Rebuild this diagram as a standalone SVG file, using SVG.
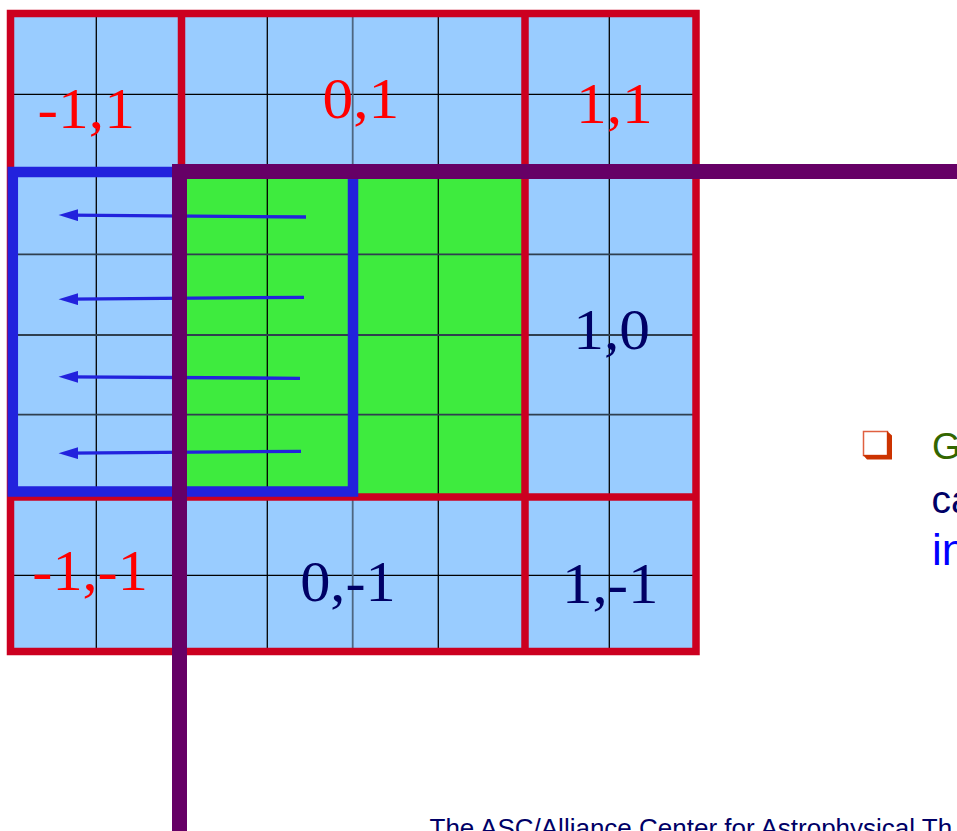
<svg xmlns="http://www.w3.org/2000/svg" width="957" height="831" viewBox="0 0 957 831">
  <style>
    .thin { stroke: #000000; stroke-width: 1.3; fill: none; }
    .thinb { stroke: #2f3f4f; stroke-width: 1.8; fill: none; }
    .red { stroke: #CC0020; stroke-width: 7.5; fill: none; }
    .lbl { font-family: "Liberation Serif", "Times New Roman", serif; font-size: 58px; }
    .lr { fill: #FF0000; }
    .ln { fill: #000066; }
    .arrow { stroke: #2222DD; stroke-width: 3.3; fill: none; marker-end: url(#ah); }
    .sans { font-family: "Liberation Sans", Arial, sans-serif; }
  </style>
  <defs>
    <marker id="ah" markerUnits="userSpaceOnUse" markerWidth="20" markerHeight="12" viewBox="0 0 18 11" refX="7.5" refY="5.5" orient="auto">
      <path d="M0,0 L18,5.5 L0,11 z" fill="#2222DD"/>
    </marker>
  </defs>
  <rect width="957" height="831" fill="#FFFFFF"/>

  <g id="grid">
    <rect x="10.5" y="13.5" width="685.5" height="637.5" fill="#99CCFF"/>
    <rect id="interior" x="181" y="172" width="343" height="325" fill="#3EEB3E"/>
    <g class="thin">
      <line x1="96.3" y1="13.5" x2="96.3" y2="651"/>
      <line x1="267.3" y1="13.5" x2="267.3" y2="651"/>
      <line x1="438.3" y1="13.5" x2="438.3" y2="651"/>
      <line x1="609.3" y1="13.5" x2="609.3" y2="651"/>
      <line x1="10.5" y1="94.3" x2="696" y2="94.3"/>
      <line x1="10.5" y1="575.3" x2="696" y2="575.3"/>
    </g>
    <g class="thinb">
      <line x1="352.7" y1="13.5" x2="352.7" y2="651" stroke="#4d6680"/>
      <line x1="10.5" y1="254.3" x2="696" y2="254.3"/>
      <line x1="10.5" y1="335" x2="696" y2="335"/>
      <line x1="10.5" y1="414.7" x2="696" y2="414.7"/>
    </g>
    <g class="red">
      <rect x="10.5" y="13.5" width="685.5" height="638"/>
      <line x1="181.5" y1="13.5" x2="181.5" y2="651"/>
      <line x1="525" y1="13.5" x2="525" y2="651"/>
      <line x1="10.5" y1="172" x2="696" y2="172"/>
      <line x1="10.5" y1="497" x2="696" y2="497"/>
    </g>
  </g>

  <g id="tile-m1-1"><text class="lbl lr" transform="translate(37.6,127.6) scale(1.06,1)">-1,1</text></g>
  <g id="tile-0-1"><text class="lbl lr" transform="translate(322.5,118) scale(1.06,1)">0,1</text></g>
  <g id="tile-1-1"><text class="lbl lr" transform="translate(575.9,123.3) scale(1.06,1)">1,1</text></g>
  <g id="tile-1-0"><text class="lbl ln" transform="translate(573.2,349.3) scale(1.06,1)">1,0</text></g>
  <g id="tile-m1-m1"><text class="lbl lr" transform="translate(32.3,590) scale(1.04,1)">-1,-1</text></g>
  <g id="tile-0-m1"><text class="lbl ln" transform="translate(300.2,601) scale(1.04,1)">0,-1</text></g>
  <g id="tile-1-m1"><text class="lbl ln" transform="translate(562,602.7) scale(1.05,1)">1,-1</text></g>

  <g id="guard-region">
    <rect x="12.8" y="172" width="340.2" height="319.5" fill="none" stroke="#2222DD" stroke-width="10.5"/>
  </g>

  <g id="connectors">
    <line class="arrow" x1="306" y1="217" x2="70" y2="215.1"/>
    <line class="arrow" x1="304" y1="297.3" x2="70" y2="299.2"/>
    <line class="arrow" x1="300" y1="378.3" x2="70" y2="376.8"/>
    <line class="arrow" x1="301" y1="451.3" x2="70" y2="453.2"/>
  </g>

  <g id="boundary">
    <polyline points="957,171.5 179.5,171.5 179.5,831" fill="none" stroke="#660066" stroke-width="15" stroke-linejoin="miter"/>
  </g>

  <g id="bullet">
    <rect x="863.5" y="431.5" width="24" height="24" fill="#FFFFFF" stroke="#E06040" stroke-width="1.5"/>
    <path d="M887,431 L892,435.5 L892,459.5 L867,459.5 L863,455 L887,455 z" fill="#CC3300"/>
    <text class="sans" x="932" y="459" font-size="37" fill="#336600">G</text>
    <text class="sans" x="931.5" y="512.5" font-size="39" fill="#000066">ca</text>
    <text class="sans" x="932" y="565" font-size="44" fill="#0000FF">in</text>
  </g>

  <g id="footer">
    <text class="sans" x="429.5" y="837" font-size="26" fill="#000066">The ASC/Alliance Center for Astrophysical Th</text>
  </g>
</svg>
